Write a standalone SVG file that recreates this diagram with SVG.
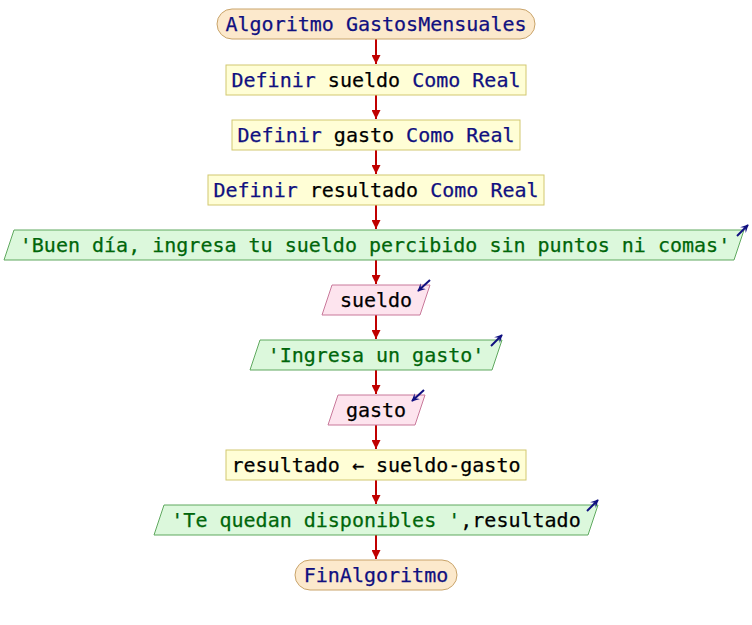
<svg xmlns="http://www.w3.org/2000/svg" width="752" height="625" viewBox="0 0 752 625">
  <style>
    text { font-family: "DejaVu Sans Mono", "Liberation Mono", monospace; font-size: 20px; text-anchor: middle; fill: #000000; stroke: currentColor; stroke-width: 0.25; color: #000000; }
    .kw { fill: #101080; color: #101080; }
    .str { fill: #00660a; color: #00660a; }
    .term { fill: #fce9cc; stroke: #c9a46a; stroke-width: 1; }
    .proc { fill: #fffed6; stroke: #d2c870; stroke-width: 1; }
    .out { fill: #dcf8dc; stroke: #5fa85f; stroke-width: 1; }
    .in { fill: #fde4ee; stroke: #c8789a; stroke-width: 1; }
    .flow { stroke: #c00000; stroke-width: 2; fill: none; }
    .io { stroke: #101080; stroke-width: 2; fill: none; }
  </style>
  <defs>
    <marker id="flowhead" viewBox="0 0 10 10" refX="10" refY="5" markerWidth="4.5" markerHeight="4.5" orient="auto" markerUnits="strokeWidth">
      <path d="M0,0 L10,5 L0,10 Z" fill="#c00000"/>
    </marker>
    <marker id="iohead" viewBox="0 0 10 10" refX="9" refY="5" markerWidth="4" markerHeight="4" orient="auto" markerUnits="strokeWidth">
      <path d="M0,0 L10,5 L0,10 L4,5 Z" fill="#101080"/>
    </marker>
  </defs>

  <!-- flow connectors -->
  <g id="connectors">
    <line class="flow" x1="376" y1="39" x2="376" y2="64" marker-end="url(#flowhead)"/>
    <line class="flow" x1="376" y1="95" x2="376" y2="119" marker-end="url(#flowhead)"/>
    <line class="flow" x1="376" y1="150" x2="376" y2="174" marker-end="url(#flowhead)"/>
    <line class="flow" x1="376" y1="205" x2="376" y2="229" marker-end="url(#flowhead)"/>
    <line class="flow" x1="376" y1="260" x2="376" y2="284" marker-end="url(#flowhead)"/>
    <line class="flow" x1="376" y1="315" x2="376" y2="339" marker-end="url(#flowhead)"/>
    <line class="flow" x1="376" y1="370" x2="376" y2="394" marker-end="url(#flowhead)"/>
    <line class="flow" x1="376" y1="425" x2="376" y2="449" marker-end="url(#flowhead)"/>
    <line class="flow" x1="376" y1="480" x2="376" y2="504" marker-end="url(#flowhead)"/>
    <line class="flow" x1="376" y1="535" x2="376" y2="559" marker-end="url(#flowhead)"/>
  </g>

  <g id="inicio">
    <rect class="term" x="217" y="9" width="318" height="30" rx="15" ry="15"/>
    <text x="376" y="31" class="kw">Algoritmo GastosMensuales</text>
  </g>

  <g id="def-sueldo">
    <rect class="proc" x="226" y="65" width="300" height="30"/>
    <text x="376" y="87"><tspan class="kw">Definir</tspan> sueldo <tspan class="kw">Como Real</tspan></text>
  </g>

  <g id="def-gasto">
    <rect class="proc" x="232" y="120" width="288" height="30"/>
    <text x="376" y="142"><tspan class="kw">Definir</tspan> gasto <tspan class="kw">Como Real</tspan></text>
  </g>

  <g id="def-resultado">
    <rect class="proc" x="208" y="175" width="336" height="30"/>
    <text x="376" y="197"><tspan class="kw">Definir</tspan> resultado <tspan class="kw">Como Real</tspan></text>
  </g>

  <g id="escribir-bienvenida">
    <polygon class="out" points="14,230 744,230 734,260 4,260"/>
    <text x="375" y="252" class="str">'Buen día, ingresa tu sueldo percibido sin puntos ni comas'</text>
    <line class="io" x1="737" y1="236" x2="748" y2="225" marker-end="url(#iohead)"/>
  </g>

  <g id="leer-sueldo">
    <polygon class="in" points="332,285 430,285 420,315 322,315"/>
    <text x="376" y="307">sueldo</text>
    <line class="io" x1="430" y1="280" x2="418" y2="291" marker-end="url(#iohead)"/>
  </g>

  <g id="escribir-gasto">
    <polygon class="out" points="260,340 502,340 492,370 250,370"/>
    <text x="376" y="362" class="str">'Ingresa un gasto'</text>
    <line class="io" x1="491" y1="346" x2="502" y2="335" marker-end="url(#iohead)"/>
  </g>

  <g id="leer-gasto">
    <polygon class="in" points="338,395 425,395 415,425 328,425"/>
    <text x="376" y="417">gasto</text>
    <line class="io" x1="424" y1="390" x2="412" y2="401" marker-end="url(#iohead)"/>
  </g>

  <g id="asignar-resultado">
    <rect class="proc" x="226" y="450" width="300" height="30"/>
    <text x="376" y="472">resultado ← sueldo-gasto</text>
  </g>

  <g id="escribir-resultado">
    <polygon class="out" points="164,505 598,505 588,535 154,535"/>
    <text x="376" y="527"><tspan class="str">'Te quedan disponibles '</tspan>,resultado</text>
    <line class="io" x1="587" y1="511" x2="598" y2="500" marker-end="url(#iohead)"/>
  </g>

  <g id="fin">
    <rect class="term" x="295" y="560" width="162" height="30" rx="15" ry="15"/>
    <text x="376" y="582" class="kw">FinAlgoritmo</text>
  </g>
</svg>
